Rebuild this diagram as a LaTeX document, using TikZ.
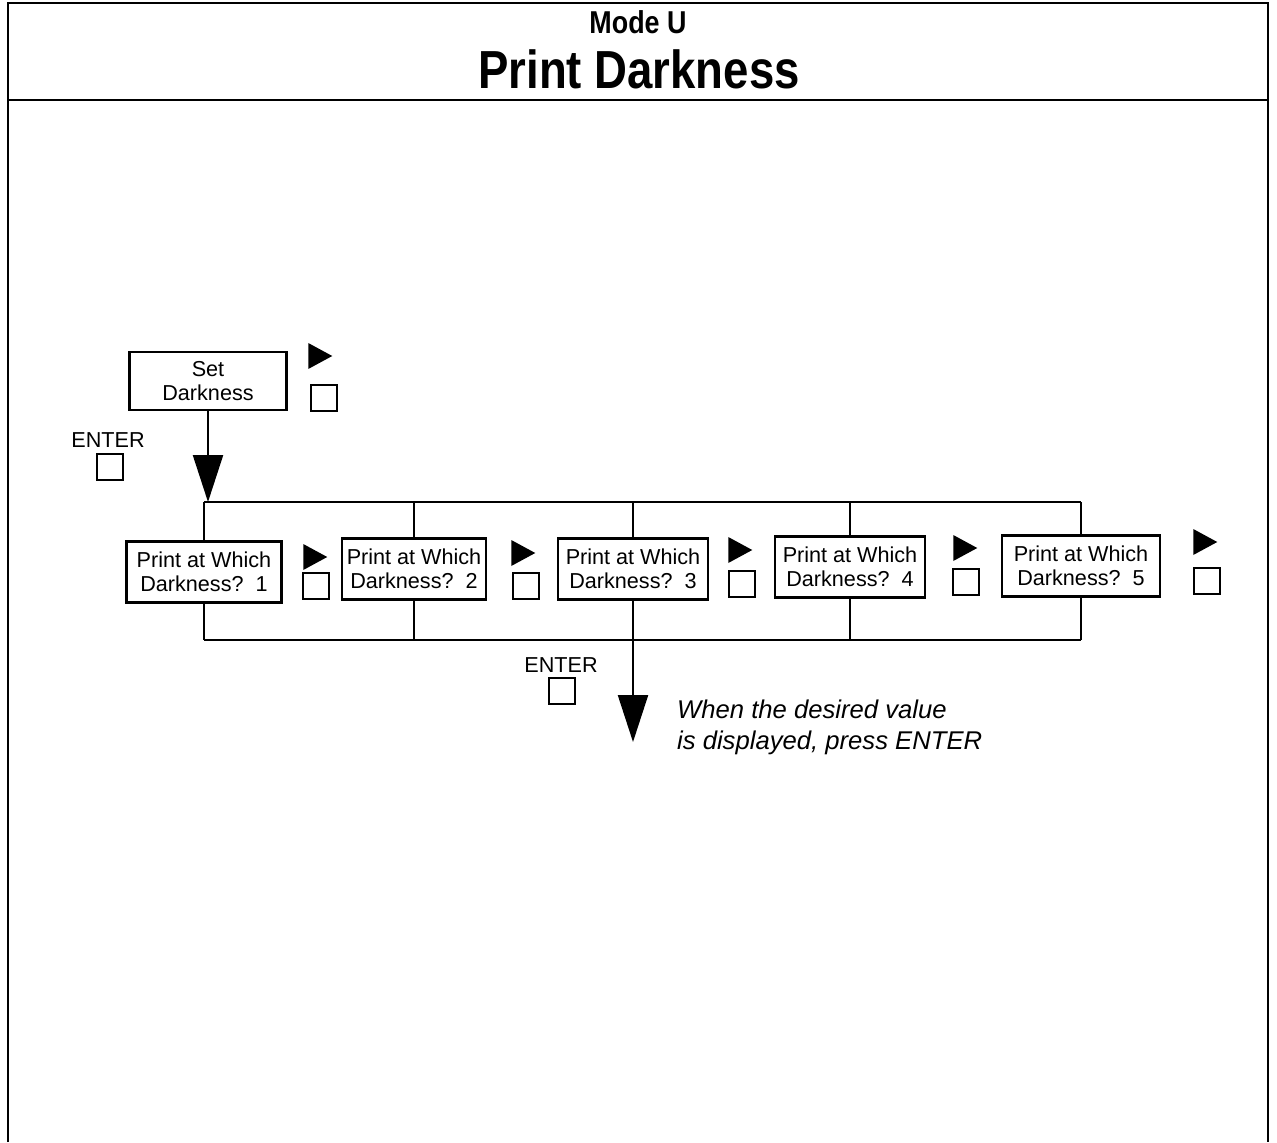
\documentclass[tikz,border=0pt]{standalone}
\usepackage{fontspec}
\setmainfont{Liberation Sans}
\newfontfamily\narrowfont[FakeStretch=0.85]{Liberation Sans}
\usetikzlibrary{arrows.meta,positioning,shapes.geometric}

\begin{document}
\begin{tikzpicture}[
  x=0.02cm, y=-0.02cm, line width=1.3pt, font=\fontsize{12.3}{13.5}\selectfont,
  menu/.style={draw,line width=1.4pt,align=center,minimum width=3.0cm,minimum height=1.22cm,inner sep=2pt},
  key/.style={draw,line width=1.1pt,minimum size=0.52cm,inner sep=0pt},
  nextkey/.style={isosceles triangle,isosceles triangle stretches,fill,draw=none,inner sep=0pt,
                  minimum width=0.52cm,minimum height=0.48cm},
  bigarrow/.style={-{Triangle[length=0.94cm,width=0.6cm]}},
]
\useasboundingbox (0,0) rectangle (1277,1142);

% --- frame and title ---
\draw[line width=1.6pt] (8,1142) -- (8,3) -- (1268,3) -- (1268,1142);
\draw[line width=1.6pt] (8,100) -- (1268,100);
\node[font=\narrowfont\bfseries\fontsize{18}{20}\selectfont] (mode) at (638,22) {Mode U};
\node[font=\narrowfont\bfseries\fontsize{30.5}{32}\selectfont] (title) at (639,69) {Print Darkness};

% --- set darkness ---
\node[menu,minimum width=3.14cm,minimum height=1.16cm] (set) at (208,381) {Set\\Darkness};
\node[nextkey] (nset) at (316,356) {};
\node[key] (kset) at (324,398) {};
\node (eset) at (108,440) {ENTER};
\node[key] (keset) at (110,467) {};

% --- choices ---
\node[menu,minimum width=3.1cm] (b1) at (204,572) {Print at Which\\Darkness?\ \ 1};
\node[menu,minimum width=2.88cm] (b2) at (414,569) {Print at Which\\Darkness?\ \ 2};
\node[menu] (b3) at (633,569) {Print at Which\\Darkness?\ \ 3};
\node[menu] (b4) at (850,567) {Print at Which\\Darkness?\ \ 4};
\node[menu,minimum width=3.16cm] (b5) at (1081,566) {Print at Which\\Darkness?\ \ 5};

\node[nextkey] (n1) at (311,557) {};
\node[nextkey] (n2) at (519,553) {};
\node[nextkey] (n3) at (736,550) {};
\node[nextkey] (n4) at (961,548) {};
\node[nextkey] (n5) at (1201,542) {};
\node[key] (k1) at (316,586) {};
\node[key] (k2) at (526,586) {};
\node[key] (k3) at (742,584) {};
\node[key] (k4) at (966,582) {};
\node[key] (k5) at (1207,581) {};

% --- buses ---
\coordinate (topL) at (204,502);
\coordinate (botL) at (204,640);
\draw[bigarrow] (set.south) -- (set.south |- topL);
\draw (topL) -- (b5.north |- topL);
\draw (botL) -- (b5.south |- botL);
\foreach \i in {1,...,5} {
  \draw (b\i.north) -- (b\i.north |- topL);
  \draw (b\i.south) -- (b\i.south |- botL);
}

% --- exit ---
\coordinate (out) at (633,742);
\draw[bigarrow] (b3.south |- botL) -- (out);
\node (eout) at (561,665) {ENTER};
\node[key] (keout) at (562,691) {};
\node[anchor=north west,align=left,inner sep=0pt,font=\itshape\fontsize{14.6}{17.5}\selectfont] (note) at (676,699)
  {When the desired value\\is displayed, press ENTER};
\end{tikzpicture}
\end{document}
